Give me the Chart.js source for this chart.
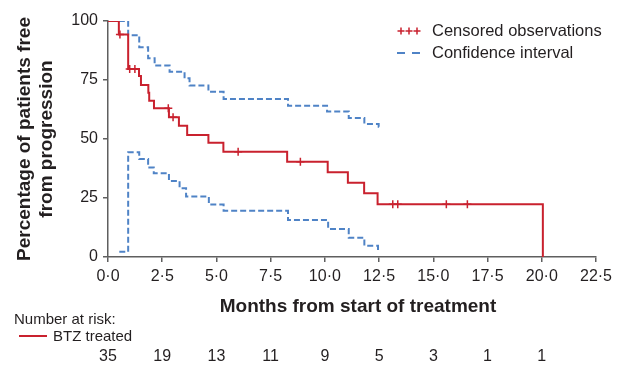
<!DOCTYPE html>
<html>
<head>
<meta charset="utf-8">
<script src="https://cdn.jsdelivr.net/npm/chart.js@4.4.0/dist/chart.umd.min.js"></script>
<style>
  html, body { margin: 0; padding: 0; background: #fff; }
  #wrap { width: 617px; height: 365px; position: relative; }
</style>
</head>
<body>
<div id="wrap"><canvas id="kmChart" width="617" height="365"></canvas></div>
<script>
// x ticks (months) and number at risk under each tick
const xTicks = [0, 2.5, 5, 7.5, 10, 12.5, 15, 17.5, 20, 22.5];
const atRisk = [35, 19, 13, 11, 9, 5, 3, 1, 1];

// Kaplan-Meier estimate (BTZ treated): value holds from each time onward
const kmTimes = [0, 0.5, 0.93, 1.43, 1.52, 1.86, 1.9, 2.12, 2.81, 3.27, 3.65, 4.63, 5.32, 8.26, 10.13, 11.06, 11.81, 12.43, 20.05];
const kmSurv  = [100, 94.3, 79.7, 76.7, 72.9, 69.6, 66.2, 63.0, 59.2, 55.6, 51.7, 48.4, 44.6, 40.4, 35.9, 31.5, 27.0, 22.3, 0];

// censored observations
const censorTimes = [0.55, 1.0, 1.24, 2.78, 3.0, 6.0, 8.87, 13.13, 13.36, 15.6, 16.57];
const censorVals  = [94.3, 79.7, 79.7, 63.0, 59.2, 44.6, 40.4, 22.3, 22.3, 22.3, 22.3];

// confidence interval bounds
const upperTimes = [0.5, 0.93, 1.44, 1.85, 2.15, 2.84, 3.53, 3.76, 4.63, 5.33, 8.3, 10.1, 11.1, 11.82, 12.48, 12.5];
const upperVals  = [100, 94.0, 88.9, 84.2, 81.1, 78.5, 75.7, 72.7, 70.0, 67.0, 64.1, 61.6, 58.9, 56.4, 55.2, 55.2];
const lowerTimes = [0.52, 0.93, 1.44, 1.85, 2.11, 2.81, 3.3, 3.6, 4.65, 5.33, 8.3, 10.15, 11.1, 11.82, 12.45, 12.5];
const lowerVals  = [2.2, 44.4, 41.5, 37.9, 35.5, 32.2, 29.1, 25.6, 22.2, 19.6, 15.7, 11.9, 8.2, 4.8, 3.0, 3.0];

const RED = '#c9212e';
const BLUE = '#4f83c6';
const AXIS = '#5f5f5f';
const TEXT = '#231f20';
const FONT = "'Liberation Sans', Arial, sans-serif";

const pts = (xs, ys) => xs.map((x, i) => ({ x, y: ys[i] }));

const extras = {
  id: 'extras',
  afterDraw(chart) {
    const ctx = chart.ctx;
    const xs = chart.scales.x;
    const area = chart.chartArea;
    ctx.save();
    ctx.fillStyle = TEXT;

    // axis titles
    ctx.font = "bold 19px " + FONT;
    ctx.textAlign = 'center';
    ctx.textBaseline = 'middle';
    ctx.fillText('Months from start of treatment', 358, 307);
    ctx.save();
    ctx.translate(25, 139);
    ctx.rotate(-Math.PI / 2);
    ctx.fillText('Percentage of patients free', 0, 0);
    ctx.fillText('from progression', 0, 22);
    ctx.restore();

    // legend
    ctx.strokeStyle = RED;
    ctx.lineWidth = 1.5;
    [401, 409, 417].forEach(cx => {
      ctx.beginPath();
      ctx.moveTo(cx - 3.5, 31); ctx.lineTo(cx + 3.5, 31);
      ctx.moveTo(cx, 27.5); ctx.lineTo(cx, 34.5);
      ctx.stroke();
    });
    ctx.strokeStyle = BLUE;
    ctx.lineWidth = 2;
    ctx.beginPath();
    ctx.moveTo(397, 53); ctx.lineTo(405, 53);
    ctx.moveTo(412, 53); ctx.lineTo(420, 53);
    ctx.stroke();
    ctx.font = "16.5px " + FONT;
    ctx.textAlign = 'left';
    ctx.fillText('Censored observations', 432, 31);
    ctx.fillText('Confidence interval', 432, 53);

    // number at risk
    ctx.font = "15px " + FONT;
    ctx.fillText('Number at risk:', 14, 320);
    ctx.fillText('BTZ treated', 53, 337);
    ctx.strokeStyle = RED;
    ctx.lineWidth = 2;
    ctx.beginPath();
    ctx.moveTo(19, 336); ctx.lineTo(47, 336);
    ctx.stroke();
    ctx.font = "16px " + FONT;
    ctx.textAlign = 'center';
    atRisk.forEach((n, i) => {
      ctx.fillText(String(n), xs.getPixelForValue(xTicks[i]), 357);
    });
    ctx.restore();
  }
};

new Chart(document.getElementById('kmChart'), {
  type: 'line',
  data: {
    datasets: [
      {
        label: 'Censored observations',
        data: pts(censorTimes, censorVals),
        showLine: false,
        pointStyle: 'cross',
        pointRadius: 4,
        pointBorderWidth: 1.5,
        pointBorderColor: RED,
        pointBackgroundColor: RED
      },
      {
        label: 'BTZ treated',
        data: pts(kmTimes, kmSurv),
        stepped: true,
        borderColor: RED,
        borderWidth: 2,
        pointRadius: 0,
        fill: false
      },
      {
        label: 'Upper CI',
        data: pts(upperTimes, upperVals),
        stepped: true,
        borderColor: BLUE,
        borderWidth: 2,
        borderDash: [6, 3],
        pointRadius: 0,
        fill: false
      },
      {
        label: 'Lower CI',
        data: pts(lowerTimes, lowerVals),
        stepped: true,
        borderColor: BLUE,
        borderWidth: 2,
        borderDash: [6, 3],
        pointRadius: 0,
        fill: false
      }
    ]
  },
  options: {
    responsive: false,
    animation: false,
    devicePixelRatio: 1,
    layout: { padding: { top: 21, right: 18, left: 0, bottom: 0 } },
    plugins: {
      legend: { display: false },
      tooltip: { enabled: false },
      title: { display: false }
    },
    scales: {
      x: {
        type: 'linear',
        min: 0,
        max: 22.5,
        afterFit: s => { s.height = 108; },
        afterBuildTicks: s => { s.ticks = xTicks.map(v => ({ value: v })); },
        ticks: {
          color: TEXT,
          font: { family: FONT, size: 16 },
          padding: 5,
          maxRotation: 0,
          callback: v => v.toFixed(1).replace('.', '\u00b7')
        },
        grid: { drawOnChartArea: false, drawTicks: true, tickLength: 5, color: AXIS, lineWidth: 1.5 },
        border: { color: AXIS, width: 1.5 }
      },
      y: {
        min: 0,
        max: 100,
        afterFit: s => { s.width = 108; },
        ticks: {
          stepSize: 25,
          color: TEXT,
          font: { family: FONT, size: 16 },
          padding: 5
        },
        grid: { drawOnChartArea: false, drawTicks: true, tickLength: 5, color: AXIS, lineWidth: 1.5 },
        border: { color: AXIS, width: 1.5 }
      }
    }
  },
  plugins: [extras]
});
</script>
</body>
</html>
